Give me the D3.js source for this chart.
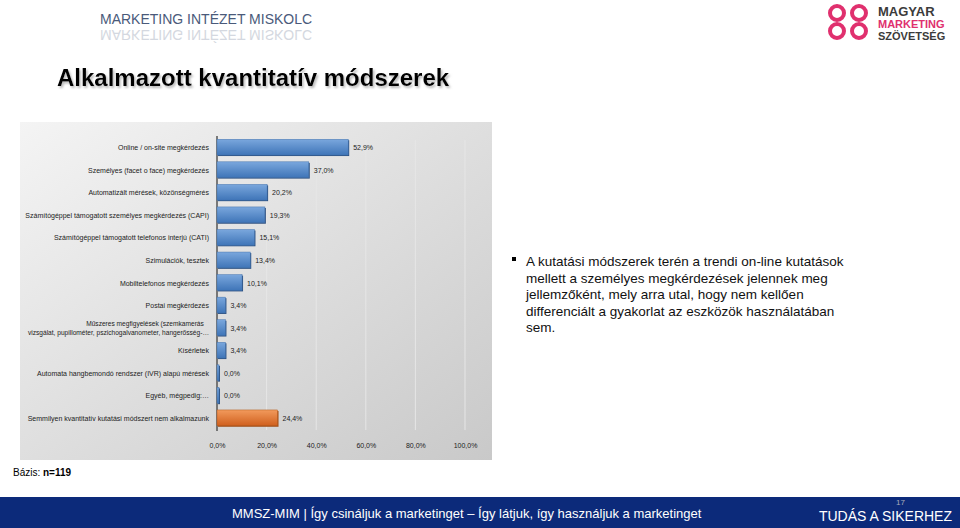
<!DOCTYPE html>
<html><head><meta charset="utf-8">
<script src="https://cdn.jsdelivr.net/npm/d3@7"></script>
<style>body{margin:0;background:#fff;}svg{display:block;font-family:Arial,"Liberation Sans",sans-serif;}</style>
</head><body><svg id="c" width="960" height="528"></svg>
<script>
const categories = [
 ["Online / on-site megkérdezés"],
 ["Személyes (facet o face) megkérdezés"],
 ["Automatizált mérések, közönségmérés"],
 ["Számítógéppel támogatott személyes megkérdezés (CAPI)"],
 ["Számítógéppel támogatott telefonos interjú (CATI)"],
 ["Szimulációk, tesztek"],
 ["Mobiltelefonos megkérdezés"],
 ["Postai megkérdezés"],
 ["Műszeres megfigyelések (szemkamerás","vizsgálat, pupillométer, pszichogalvanometer, hangerősség-…"],
 ["Kísérletek"],
 ["Automata hangbemondó rendszer (IVR) alapú mérések"],
 ["Egyéb, mégpedig:…"],
 ["Semmilyen kvantitatív kutatási módszert nem alkalmazunk"]
];
const values = [52.9,37.0,20.2,19.3,15.1,13.4,10.1,3.4,3.4,3.4,0.0,0.0,24.4];
const highlight = [false,false,false,false,false,false,false,false,false,false,false,false,true];
const ticks = [0,20,40,60,80,100];
const fmt = v => v.toFixed(1).replace(".",",")+"%";

const svg = d3.select("#c");
const defs = svg.append("defs");
const bg = defs.append("linearGradient").attr("id","bg").attr("x1",0).attr("x2",1).attr("y1",0).attr("y2",1);
bg.append("stop").attr("offset",0).attr("stop-color","#f4f4f4");
bg.append("stop").attr("offset",1).attr("stop-color","#c9c9c9");
const gb = defs.append("linearGradient").attr("id","gb").attr("x1",0).attr("x2",0).attr("y1",0).attr("y2",1);
gb.append("stop").attr("offset",0).attr("stop-color","#7aa7dd");
gb.append("stop").attr("offset",1).attr("stop-color","#3f75b8");
const go = defs.append("linearGradient").attr("id","go").attr("x1",0).attr("x2",0).attr("y1",0).attr("y2",1);
go.append("stop").attr("offset",0).attr("stop-color","#f29a5c");
go.append("stop").attr("offset",1).attr("stop-color","#d0601e");
const sh = defs.append("filter").attr("id","sh");
sh.append("feDropShadow").attr("dx",1.5).attr("dy",2).attr("stdDeviation",0.8).attr("flood-color","#888").attr("flood-opacity",0.6);

// header
svg.append("text").attr("x",100).attr("y",24).attr("font-size",14).attr("fill","#4a5a7a").text("MARKETING INTÉZET MISKOLC");
svg.append("text").attr("x",100).attr("y",28).attr("font-size",14).attr("fill","#d4d8e0").attr("transform","scale(1,-1) translate(0,-58)").text("MARKETING INTÉZET MISKOLC");
const lg = svg.append("g").attr("transform","translate(828,4)");
[[0,0],[22,0],[0,18],[22,18]].forEach(p=>lg.append("circle").attr("cx",p[0]+9).attr("cy",p[1]+9).attr("r",7).attr("fill","none").attr("stroke","#e0306e").attr("stroke-width",4));
lg.append("text").attr("x",50).attr("y",12).attr("font-size",13).attr("fill","#3b3b3b").attr("font-weight","bold").text("MAGYAR");
lg.append("text").attr("x",50).attr("y",24).attr("font-size",11).attr("fill","#e0306e").attr("font-weight","bold").text("MARKETING");
lg.append("text").attr("x",50).attr("y",36).attr("font-size",11).attr("fill","#3b3b3b").attr("font-weight","bold").text("SZÖVETSÉG");
svg.append("text").attr("x",57).attr("y",86).attr("font-size",24).attr("font-weight","bold").attr("fill","#000").attr("filter","url(#sh)").text("Alkalmazott kvantitatív módszerek");

// panel
svg.append("rect").attr("x",20).attr("y",122).attr("width",472).attr("height",338).attr("fill","url(#bg)");
const x = d3.scaleLinear().domain([0,100]).range([217,465]);
const y = d3.scaleBand().domain(d3.range(values.length)).range([137,428]).paddingInner(0.3).paddingOuter(0.1);
svg.append("g").selectAll("line").data(ticks.slice(1)).join("line")
 .attr("x1",d=>x(d)).attr("x2",d=>x(d)).attr("y1",140).attr("y2",430).attr("stroke","#e6e6e6");
svg.append("line").attr("x1",x(0)).attr("x2",x(0)).attr("y1",136).attr("y2",431).attr("stroke","#555").attr("stroke-width",1.5);
const axis = d3.axisBottom(x).tickValues(ticks).tickFormat(d=>d.toFixed(1).replace(".",",")+"%").tickSize(0);
const ag = svg.append("g").attr("transform","translate(0,440)").call(axis);
ag.select(".domain").remove();
ag.selectAll("text").attr("font-size",7).attr("fill","#222").attr("font-family","Arial,'Liberation Sans',sans-serif");
const g = svg.append("g");
values.forEach((v,i)=>{
  const y0 = y(i), h = y.bandwidth(), w = Math.max(x(v)-x(0),2);
  g.append("rect").attr("x",x(0)+1).attr("y",y0+1).attr("width",w).attr("height",h).attr("fill",highlight[i]?"#a14a12":"#2b4f80");
  g.append("rect").attr("x",x(0)).attr("y",y0).attr("width",w).attr("height",h).attr("fill",highlight[i]?"url(#go)":"url(#gb)").attr("stroke",highlight[i]?"#b25a1c":"#4675ad").attr("stroke-width",0.5);
  g.append("text").attr("x",x(0)+w+5).attr("y",y0+h/2+3).attr("font-size",7).attr("fill","#222").text(fmt(v));
  const lines = categories[i], multi = lines.length>1;
  lines.forEach((t,k)=>g.append("text").attr("x",multi&&k==0?145:209).attr("text-anchor",multi&&k==0?"middle":"end")
    .attr("y",y0+h/2+3+(k-(lines.length-1)/2)*9).attr("font-size",multi?6.6:7).attr("fill","#222").text(t));
});

// bullet text
svg.append("rect").attr("x",512).attr("y",257).attr("width",4).attr("height",4).attr("fill","#000");
["A kutatási módszerek terén a trendi on-line kutatások","mellett a személyes megkérdezések jelennek meg","jellemzőként, mely arra utal, hogy nem kellően","differenciált a gyakorlat az eszközök használatában","sem."]
 .forEach((t,k)=>svg.append("text").attr("x",526).attr("y",266+k*16.5).attr("font-size",13.5).attr("fill","#111").text(t));

svg.append("text").attr("x",13).attr("y",476).attr("font-size",10).attr("fill","#000").html('Bázis: <tspan font-weight="bold">n=119</tspan>');

// footer
svg.append("rect").attr("x",0).attr("y",497).attr("width",960).attr("height",31).attr("fill","#0c2a7a");
svg.append("text").attr("x",232).attr("y",518).attr("font-size",13).attr("fill","#fff").text("MMSZ-MIM | Így csináljuk a marketinget – Így látjuk, így használjuk a marketinget");
svg.append("text").attr("x",952).attr("y",521).attr("text-anchor","end").attr("font-size",14).attr("fill","#fff").text("TUDÁS A SIKERHEZ");
svg.append("text").attr("x",905).attr("y",505).attr("text-anchor","end").attr("font-size",8).attr("fill","#aab").text("17");
</script></body></html>
